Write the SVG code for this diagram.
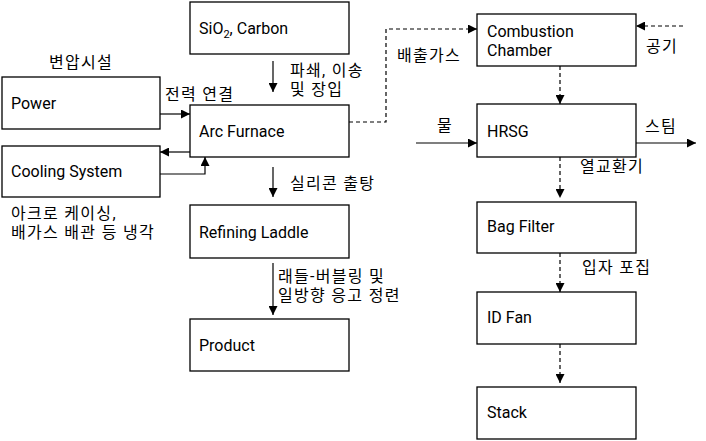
<svg xmlns="http://www.w3.org/2000/svg" width="706" height="441" viewBox="0 0 706 441">
<defs>
<marker id="ah" viewBox="0 0 10 10" refX="10" refY="5" markerWidth="9" markerHeight="9" markerUnits="userSpaceOnUse" orient="auto">
<path d="M0,0 L10,5 L0,10 z" fill="#000"/>
</marker>
</defs>
<style>
rect{fill:#fff;stroke:#000;stroke-width:1.3}
text{font-family:Roboto,"Noto Sans CJK KR",sans-serif;font-size:16px;fill:#000}
.k{letter-spacing:1.3px}
.c{fill:none;stroke:#000;stroke-width:1.2;marker-end:url(#ah)}
.d{stroke-dasharray:4,3}
</style>
<rect x="0" y="0" width="706" height="441" style="stroke:none"/>
<g id="connectors">
<path class="c" d="M273,61 V92"/>
<path class="c" d="M160,114 H190"/>
<path class="c" d="M190,152 H160"/>
<path class="c" d="M160,174 H205 V157"/>
<path class="c" d="M273,167 V197"/>
<path class="c" d="M273,263 V315"/>
<path class="c d" d="M349,122 H386 V29 H477"/>
<path class="c d" d="M683,26 H636"/>
<path class="c d" d="M560,66 V104"/>
<path class="c" d="M416,143 H477"/>
<path class="c" d="M636,143 H696"/>
<path class="c d" d="M560,157 V198"/>
<path class="c d" d="M560,253 V292"/>
<path class="c d" d="M560,344 V383"/>
</g>
<g id="sio2"><rect x="190" y="2" width="159" height="52"/><text x="199" y="34">SiO<tspan font-size="11" dy="4">2</tspan><tspan dy="-4">, Carbon</tspan></text></g>
<g id="power"><rect x="2" y="77" width="158" height="52"/><text x="11" y="109">Power</text></g>
<g id="arc"><rect x="190" y="105" width="159" height="52"/><text x="199" y="137">Arc Furnace</text></g>
<g id="cooling"><rect x="2" y="146" width="158" height="51"/><text x="11" y="177">Cooling System</text></g>
<g id="refining"><rect x="190" y="205" width="159" height="53"/><text x="199" y="238">Refining Laddle</text></g>
<g id="product"><rect x="190" y="319" width="159" height="52"/><text x="199" y="351">Product</text></g>
<g id="combustion"><rect x="477" y="14" width="159" height="52"/><text x="487" y="37">Combustion</text><text x="487" y="56">Chamber</text></g>
<g id="hrsg"><rect x="477" y="104" width="159" height="53"/><text x="487" y="137">HRSG</text></g>
<g id="bagfilter"><rect x="477" y="202" width="159" height="51"/><text x="487" y="232">Bag Filter</text></g>
<g id="idfan"><rect x="477" y="292" width="159" height="52"/><text x="487" y="323">ID Fan</text></g>
<g id="stack"><rect x="477" y="387" width="159" height="52"/><text x="487" y="418">Stack</text></g>
<g id="labels">
<text class="k" x="49" y="68">변압시설</text>
<text class="k" x="165" y="100">전력 연결</text>
<text class="k" x="290" y="76">파쇄, 이송</text>
<text class="k" x="290" y="95">및 장입</text>
<text class="k" x="290" y="189">실리콘 출탕</text>
<text class="k" x="11" y="219">아크로 케이싱,</text>
<text class="k" x="11" y="238">배가스 배관 등 냉각</text>
<text class="k" x="278" y="282">래들-버블링 및</text>
<text class="k" x="278" y="301">일방향 응고 정련</text>
<text class="k" x="397" y="61">배출가스</text>
<text class="k" x="646" y="52">공기</text>
<text class="k" x="437" y="131">물</text>
<text class="k" x="645" y="132">스팀</text>
<text class="k" x="580" y="172">열교환기</text>
<text class="k" x="582" y="273">입자 포집</text>
</g>
</svg>
